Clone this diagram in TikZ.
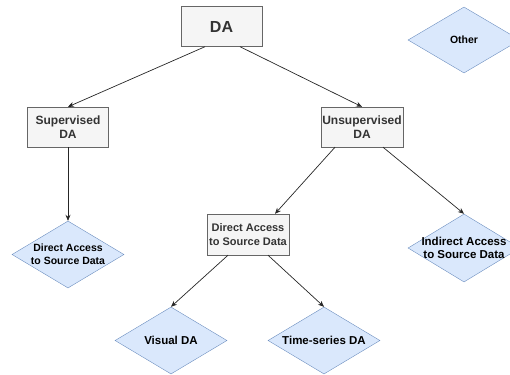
\documentclass[tikz,border=0pt]{standalone}
\usepackage{fontspec}
\setmainfont{Liberation Sans}
\usetikzlibrary{shapes.geometric,arrows.meta}
\definecolor{boxfill}{HTML}{F5F5F5}
\definecolor{boxline}{HTML}{666666}
\definecolor{boxtext}{HTML}{333333}
\definecolor{choicefill}{HTML}{DAE8FC}
\definecolor{choiceline}{HTML}{6C8EBF}
\tikzset{
  BoxStyle/.style = { rectangle, draw = boxline, fill = boxfill,
                      text = boxtext, align = center, inner sep = 0pt,
                      minimum width = 81pt, minimum height = 40pt,
                      font = \fontsize{12}{14.5}\selectfont\bfseries },
  ChoiceStyle/.style = { diamond, draw = choiceline, fill = choicefill,
                         inner sep = 0pt, minimum width = 112pt,
                         minimum height = 67pt },
  ChoiceText/.style = { align = center, text = black, inner sep = 0pt,
                        font = \fontsize{10.5}{12.7}\selectfont\bfseries },
  EdgeStyle/.style = { -{Stealth[length=6pt, width=5pt]}, draw = black!85,
                       line width = 0.7pt } }
\begin{document}
\begin{tikzpicture}[x=1pt, y=-1pt]
  \useasboundingbox (0,0) rectangle (510,374);
  \node[BoxStyle, font = \fontsize{16}{18}\selectfont\bfseries](DA) at (221.5,26.5) {DA};
  \node[ChoiceStyle, minimum height = 66pt,
        label = {[ChoiceText]center:Other}](other) at (464,40) {};
  \node[BoxStyle](sup) at (68,127) {Supervised\\DA};
  \node[BoxStyle, minimum width = 82pt](unsup) at (362,127) {Unsupervised\\DA};
  \node[ChoiceStyle,
        label = {[ChoiceText]center:Direct Access\\to Source Data}](supsrc) at (68,254.5) {};
  \node[BoxStyle, minimum width = 82pt, minimum height = 41pt,
        font = \fontsize{11}{14}\selectfont\bfseries](direct) at (248,234.5) {Direct Access\\to Source Data};
  \node[ChoiceStyle, minimum height = 68pt,
        label = {[ChoiceText, font = \fontsize{11.5}{13}\selectfont\bfseries]center:Indirect Access\\to Source Data}](indirect) at (464,248) {};
  \node[ChoiceStyle,
        label = {[ChoiceText, font = \fontsize{11.5}{13}\selectfont\bfseries]center:Visual DA}](visual) at (171,340.5) {};
  \node[ChoiceStyle,
        label = {[ChoiceText, font = \fontsize{11.5}{13}\selectfont\bfseries]center:Time-series DA}](timeser) at (324,340.5) {};
  % edges
  \draw[EdgeStyle] ([xshift=-16.5pt]DA.south) -- (sup.north);
  \draw[EdgeStyle] ([xshift=18.5pt]DA.south) -- (unsup.north);
  \draw[EdgeStyle] (sup.south) -- (supsrc.north);
  \draw[EdgeStyle] ([xshift=-27pt]unsup.south) -- ([xshift=27pt]direct.north);
  \draw[EdgeStyle] ([xshift=21pt]unsup.south) -- (indirect.north);
  \draw[EdgeStyle] ([xshift=-20pt]direct.south) -- (visual.north);
  \draw[EdgeStyle] ([xshift=20pt]direct.south) -- (timeser.north);
\end{tikzpicture}
\end{document}
